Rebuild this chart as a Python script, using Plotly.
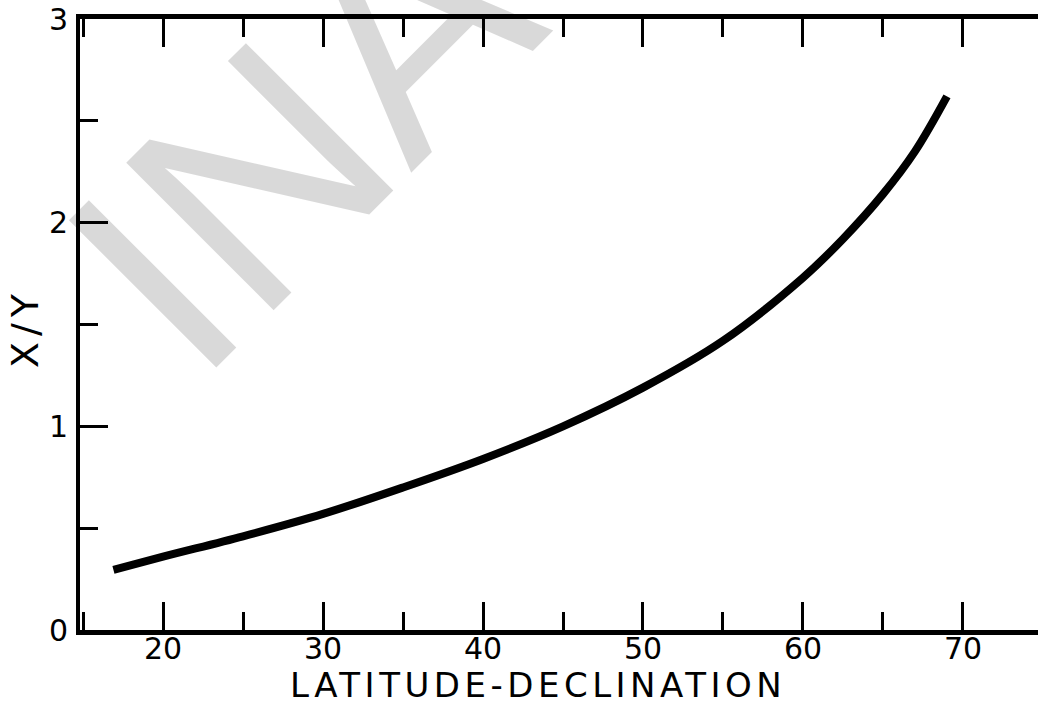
import plotly.graph_objects as go

# Data
lat_minus_dec = [16.9, 20, 25, 30, 35, 40, 45, 50, 55, 60, 62.5, 65, 67, 69]
x_over_y = [0.295, 0.36, 0.46, 0.57, 0.70, 0.84, 1.00, 1.19, 1.42, 1.73, 1.92, 2.14, 2.35, 2.62]

x_tickvals = [20, 30, 40, 50, 60, 70]
x_ticktext = ["20", "30", "40", "50", "60", "70"]
y_tickvals = [0, 1, 2, 3]
y_ticktext = ["0", "1", "2", "3"]

x_title = "LATITUDE-DECLINATION"
y_title = "X/Y"
watermark = "INA"

FONT = "DejaVu Sans"

fig = go.Figure()
fig.add_trace(go.Scatter(
    x=lat_minus_dec, y=x_over_y, mode="lines",
    line=dict(color="black", width=8, shape="spline", smoothing=1.0),
    showlegend=False, hoverinfo="skip",
))

fig.update_layout(
    width=1038, height=715,
    margin=dict(l=80, r=0, t=19, b=85, autoexpand=False),
    paper_bgcolor="white", plot_bgcolor="white",
    font=dict(family=FONT, color="black"),
    xaxis=dict(
        range=[14.81, 74.69], tickvals=x_tickvals, ticktext=x_ticktext,
        ticks="inside", ticklen=28, tickwidth=3, tickcolor="black",
        showline=True, linewidth=5, linecolor="black", mirror="ticks",
        showgrid=False, zeroline=False, automargin=False,
        ticklabelstandoff=-12,
        tickfont=dict(family=FONT, size=30, color="black"),
        minor=dict(dtick=5, tick0=15, ticks="inside", ticklen=18, tickwidth=3,
                   tickcolor="black", showgrid=False),
    ),
    yaxis=dict(
        range=[0, 3], tickvals=y_tickvals, ticktext=y_ticktext,
        ticks="inside", ticklen=28, tickwidth=3, tickcolor="black",
        showline=True, linewidth=4, linecolor="black", mirror=False,
        showgrid=False, zeroline=False, automargin=False,
        ticklabelstandoff=2,
        tickfont=dict(family=FONT, size=30, color="black"),
        minor=dict(dtick=0.5, tick0=0, ticks="inside", ticklen=18, tickwidth=3,
                   tickcolor="black", showgrid=False),
    ),
)

fig.add_annotation(
    text=watermark, xref="paper", yref="paper", x=0.231, y=0.812,
    xanchor="center", yanchor="middle", showarrow=False, textangle=-45,
    font=dict(family="Liberation Sans", size=303, color="rgba(0,0,0,0.15)"),
)
fig.add_annotation(
    text='<span style="letter-spacing:4.5px">' + x_title + '</span>',
    xref="paper", yref="paper", x=0.478, y=-0.090,
    xanchor="center", yanchor="middle", showarrow=False,
    font=dict(family=FONT, size=34, color="black"),
)
fig.add_annotation(
    text='<span style="letter-spacing:6px">' + y_title + '</span>',
    xref="paper", yref="paper", x=-0.058, y=0.495,
    xanchor="center", yanchor="middle", showarrow=False, textangle=-90,
    font=dict(family=FONT, size=38, color="black"),
)

fig.write_html("out.html",
               config={"displayModeBar": False},
               post_script="document.body.style.margin='0';document.body.style.overflow='hidden';")
